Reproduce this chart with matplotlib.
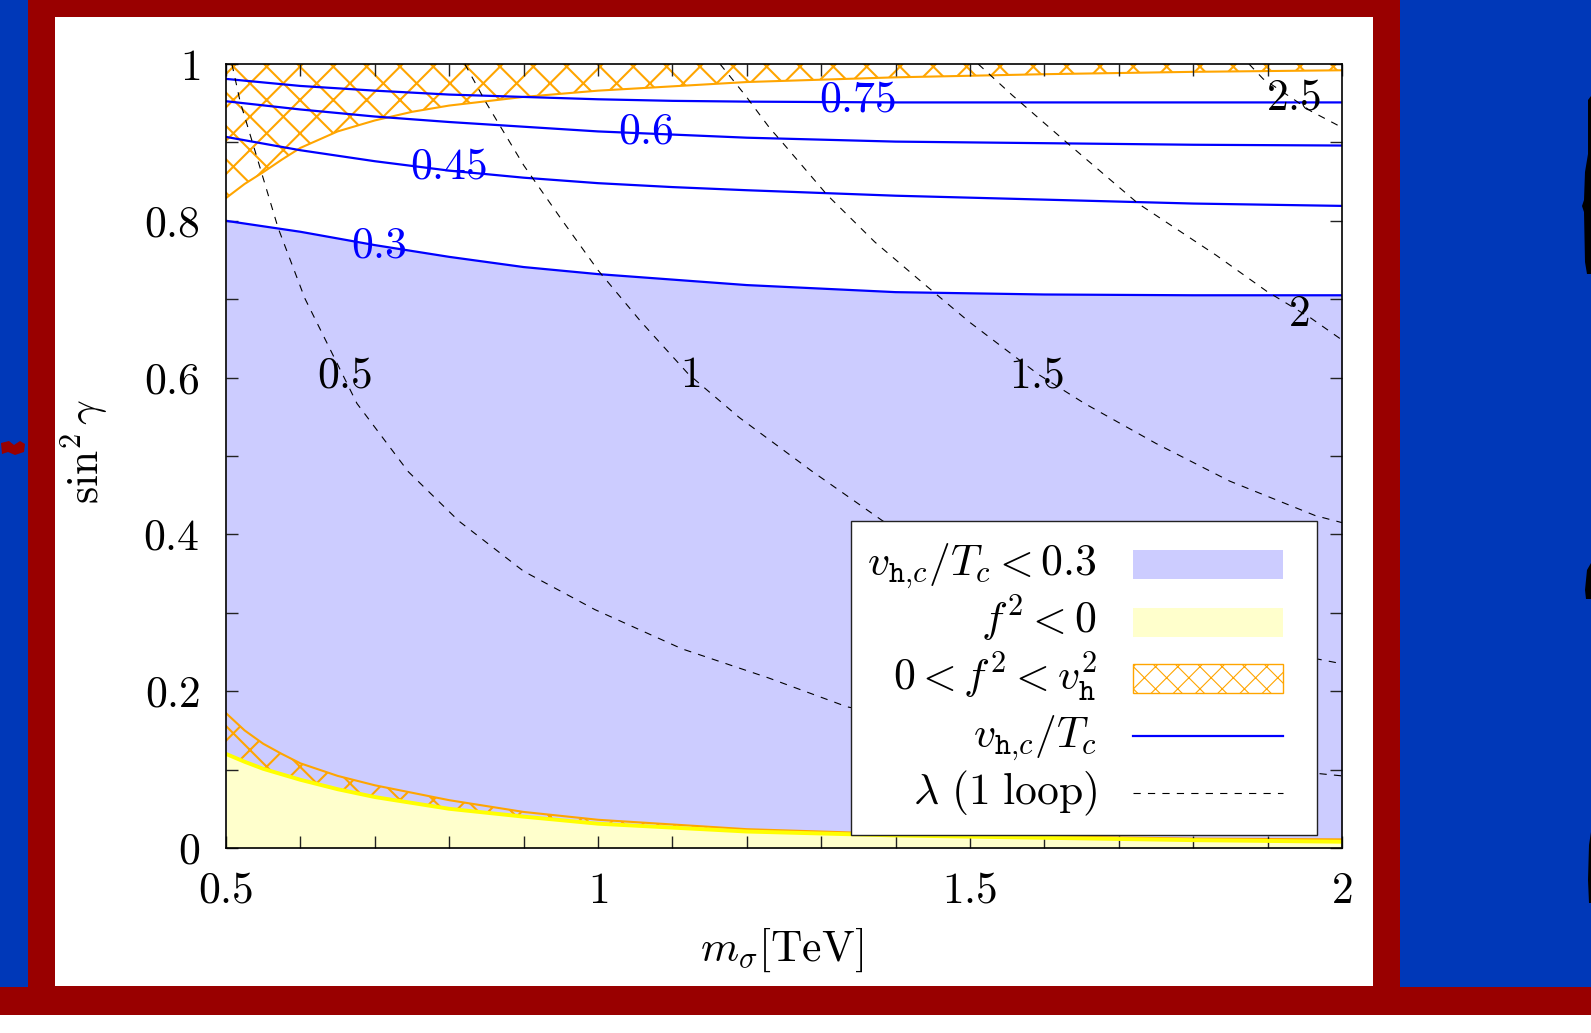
import matplotlib
matplotlib.use("Agg")
import matplotlib.pyplot as plt
from matplotlib.patches import Rectangle, Polygon
from matplotlib.lines import Line2D
from matplotlib.ticker import FixedLocator, FixedFormatter, MultipleLocator

plt.rcParams["mathtext.fontset"] = "cm"
plt.rcParams["font.family"] = "serif"
plt.rcParams["font.serif"] = ["cmr10", "DejaVu Serif"]
plt.rcParams["axes.unicode_minus"] = False
plt.rcParams["hatch.linewidth"] = 0.75
plt.rcParams["lines.scale_dashes"] = False

# --- v_h,c / T_c contours (m_sigma in TeV, sin^2 gamma) -----------------
m_vt = [0.5, 0.6, 0.7, 0.8, 0.9, 1.0, 1.1, 1.2, 1.4, 1.6, 1.8, 2.0]
vt_030 = [0.800, 0.786, 0.769, 0.754, 0.741, 0.732, 0.725, 0.718, 0.709, 0.706, 0.705, 0.705]
vt_045 = [0.907, 0.890, 0.876, 0.864, 0.855, 0.848, 0.843, 0.839, 0.832, 0.827, 0.822, 0.819]
vt_060 = [0.9525, 0.942, 0.933, 0.926, 0.920, 0.914, 0.910, 0.906, 0.901, 0.899, 0.897, 0.896]
vt_075 = [0.981, 0.972, 0.966, 0.961, 0.958, 0.955, 0.953, 0.952, 0.951, 0.951, 0.951, 0.951]
vt_levels = ["0.3", "0.45", "0.6", "0.75"]
vt_label_m = [0.705, 0.799, 1.065, 1.349]
vt_label_s = [0.767, 0.868, 0.913, 0.954]

# --- f^2 boundaries ------------------------------------------------------
m_top = [0.5, 0.525, 0.55, 0.575, 0.6, 0.65, 0.7, 0.75, 0.8, 0.9, 1.0, 1.2, 1.4, 1.6, 1.8, 2.0]
f2_vh_top = [0.829, 0.847, 0.862, 0.878, 0.893, 0.914, 0.928, 0.939, 0.947, 0.958, 0.966,
             0.977, 0.983, 0.987, 0.990, 0.992]

m_low = [0.5, 0.525, 0.55, 0.575, 0.6, 0.65, 0.7, 0.8, 0.9, 1.0, 1.2, 1.4, 1.6, 1.8, 2.0]
f2_zero = [0.120, 0.110, 0.101, 0.094, 0.087, 0.075, 0.065, 0.050, 0.040, 0.031, 0.021,
           0.016, 0.013, 0.010, 0.008]
f2_vh_low = [0.172, 0.150, 0.133, 0.120, 0.108, 0.092, 0.080, 0.061, 0.046, 0.036, 0.024,
             0.018, 0.015, 0.012, 0.011]

# --- lambda (1 loop) contours -------------------------------------------
lam05_m = [0.508, 0.519, 0.540, 0.570, 0.606, 0.640, 0.676, 0.745, 0.813, 0.900, 0.996, 1.113, 1.229, 1.335, 1.5, 1.7, 2.0]
lam05_s = [1.0, 0.952, 0.886, 0.791, 0.701, 0.636, 0.567, 0.480, 0.417, 0.353, 0.304, 0.254, 0.217, 0.180, 0.150, 0.120, 0.092]
lam10_m = [0.821, 0.850, 0.900, 0.950, 1.000, 1.058, 1.122, 1.190, 1.287, 1.383, 1.5, 1.7, 2.0]
lam10_s = [1.0, 0.950, 0.871, 0.803, 0.737, 0.671, 0.604, 0.549, 0.481, 0.417, 0.360, 0.290, 0.235]
lam15_m = [1.164, 1.198, 1.231, 1.245, 1.308, 1.372, 1.440, 1.499, 1.592, 1.654, 1.750, 1.849, 1.964, 2.0]
lam15_s = [1.0, 0.960, 0.918, 0.903, 0.833, 0.773, 0.718, 0.671, 0.604, 0.567, 0.516, 0.468, 0.424, 0.415]
lam20_m = [1.511, 1.557, 1.631, 1.726, 1.831, 1.899, 1.958, 2.0]
lam20_s = [1.0, 0.960, 0.899, 0.822, 0.756, 0.710, 0.676, 0.648]
lam25_m = [1.875, 1.894, 1.935, 1.958, 2.0]
lam25_s = [1.0, 0.981, 0.955, 0.940, 0.919]
lam_levels = ["0.5", "1", "1.5", "2", "2.5"]
lam_label_m = [0.660, 1.124, 1.590, 1.942, 1.935]
lam_label_s = [0.602, 0.602, 0.602, 0.680, 0.956]

x_major = [0.5, 1.0, 1.5, 2.0]
x_labels = ["0.5", "1", "1.5", "2"]
y_major = [0, 0.2, 0.4, 0.6, 0.8, 1.0]
y_labels = ["0", "0.2", "0.4", "0.6", "0.8", "1"]

legend_labels = [
    r"$v_{\mathtt{h}{,}c}/T_c < 0.3$",
    r"$f^2 < 0$",
    r"$0 < f^2 < v_{\mathtt{h}}^2$",
    r"$v_{\mathtt{h}{,}c}/T_c$",
    r"$\lambda\ (1\ \mathrm{loop})$",
]

FILL_BLUE = "#ccccff"
FILL_YEL = "#ffffcc"
ORANGE = "#ffa500"
LINE_BLUE = "#0000ff"
RED = "#990000"
BG_BLUE = "#0038b8"
FS = 15.7

W, H, DPI = 1591, 1033, 200
fig = plt.figure(figsize=(W / DPI, H / DPI), dpi=DPI)


def fx(x):
    return x / W


def fy(y):
    return 1 - y / H


def box(x0, y0, x1, y1, **kw):
    r = Rectangle((fx(x0), fy(y1)), (x1 - x0) / W, (y1 - y0) / H,
                  transform=fig.transFigure, **kw)
    fig.add_artist(r)
    return r


def blob(pts, color):
    fig.add_artist(Polygon([(fx(x), fy(y)) for x, y in pts], closed=True,
                           transform=fig.transFigure, facecolor=color, lw=0,
                           zorder=-1))


# slide frame around the plot
box(0, 0, W, 1015, facecolor=RED, lw=0, zorder=-4)
box(0, 0, 28, 987, facecolor=BG_BLUE, lw=0, zorder=-3)
box(1400, 0, W, 987, facecolor=BG_BLUE, lw=0, zorder=-3)
box(55, 17, 1373, 986, facecolor="white", lw=0, zorder=-2)
blob([(1, 443), (9, 441), (14, 445), (20, 441), (25, 444), (24, 452),
      (15, 455), (8, 452), (2, 454)], RED)
# edge of a cropped glyph on the right margin
blob([(1591, 96), (1588, 100), (1588, 154), (1585, 172), (1584, 200), (1582, 206),
      (1584, 212), (1585, 262), (1587, 274), (1591, 274)], "black")
blob([(1591, 563), (1587, 570), (1585, 590), (1586, 599), (1591, 599)], "black")
blob([(1591, 832), (1589, 845), (1588, 880), (1589, 903), (1591, 903)], "black")

ax = fig.add_axes([fx(226), fy(848), (1342 - 226) / W, (848 - 64) / H])

# regions
ax.fill_between(m_vt, 0, vt_030, color=FILL_BLUE, lw=0, zorder=1)
ax.fill_between(m_low, 0, f2_zero, color=FILL_YEL, lw=0, zorder=1.1)
ax.fill_between(m_low, f2_zero, f2_vh_low, facecolor="none", edgecolor=ORANGE,
                hatch="xx", lw=0, zorder=1.2)
ax.fill_between(m_top, f2_vh_top, 1, facecolor="none", edgecolor=ORANGE,
                hatch="xx", lw=0, zorder=1.2)
ax.plot(m_low, f2_vh_low, color=ORANGE, lw=0.75, zorder=1.5)
ax.plot(m_low, f2_zero, color="#ffff00", lw=1.4, zorder=1.6)
ax.plot(m_top, f2_vh_top, color=ORANGE, lw=0.75, zorder=1.5)

# v/T contours
for s in (vt_030, vt_045, vt_060, vt_075):
    ax.plot(m_vt, s, color=LINE_BLUE, lw=0.8, zorder=2)
for lab, lm, ls in zip(vt_levels, vt_label_m, vt_label_s):
    ax.text(lm, ls, "$" + lab + "$", color=LINE_BLUE, fontsize=FS,
            ha="center", va="center", zorder=4)

# lambda contours
for lm, ls in ((lam05_m, lam05_s), (lam10_m, lam10_s), (lam15_m, lam15_s),
               (lam20_m, lam20_s), (lam25_m, lam25_s)):
    ax.plot(lm, ls, color="k", lw=0.4, dashes=(2.6, 2.6), zorder=2)
for lab, lm, ls in zip(lam_levels, lam_label_m, lam_label_s):
    ax.text(lm, ls, "$" + lab + "$", color="k", fontsize=FS,
            ha="center", va="center", zorder=4)

ax.set_xlim(0.5, 2.0)
ax.set_ylim(0, 1)
ax.xaxis.set_major_locator(FixedLocator(x_major))
ax.xaxis.set_major_formatter(FixedFormatter(["$" + t + "$" for t in x_labels]))
ax.xaxis.set_minor_locator(MultipleLocator(0.1))
ax.yaxis.set_major_locator(FixedLocator(y_major))
ax.yaxis.set_major_formatter(FixedFormatter(["$" + t + "$" for t in y_labels]))
ax.yaxis.set_minor_locator(MultipleLocator(0.1))
ax.tick_params(which="both", direction="in", top=True, right=True,
               length=4.3, width=0.5, color="#222222", labelsize=FS)
ax.tick_params(axis="x", which="major", pad=8.6)
ax.tick_params(axis="y", which="major", pad=9.4)
for sp in ax.spines.values():
    sp.set_linewidth(0.6)

fig.text(fx(84), fy(451), r"$\sin^2\gamma$", rotation=90, fontsize=FS,
         ha="center", va="center")
fig.text(fx(782), fy(950), r"$m_\sigma[\mathrm{TeV}]$", fontsize=FS,
         ha="center", va="center")

# key
box(851, 521, 1317, 835, facecolor="white", edgecolor="#222222", lw=0.5, zorder=5)
rows = [564.8, 622.0, 678.8, 736.0, 793.3]
for lab, yc in zip(legend_labels, rows):
    fig.text(fx(1097), fy(yc + 11), lab, fontsize=FS, ha="right",
             va="baseline", zorder=6)
box(1133, rows[0] - 14.5, 1283, rows[0] + 14.5, facecolor=FILL_BLUE, lw=0, zorder=6)
box(1133, rows[1] - 14.5, 1283, rows[1] + 14.5, facecolor=FILL_YEL, lw=0, zorder=6)
with plt.rc_context({"hatch.linewidth": 0.4}):
    hp = box(1133, rows[2] - 14.5, 1283, rows[2] + 14.5, facecolor="white",
             edgecolor=ORANGE, hatch="xxx", lw=0.5, zorder=6)
    if hasattr(hp, "set_hatch_linewidth"):
        hp.set_hatch_linewidth(0.4)
fig.add_artist(Line2D([fx(1133), fx(1283)], [fy(rows[3]), fy(rows[3])],
                      transform=fig.transFigure, color=LINE_BLUE, lw=0.8, zorder=6))
fig.add_artist(Line2D([fx(1133), fx(1283)], [fy(rows[4]), fy(rows[4])],
                      transform=fig.transFigure, color="k", lw=0.4,
                      dashes=(2.6, 2.6), zorder=6))

fig.savefig("out.png", dpi=DPI)
